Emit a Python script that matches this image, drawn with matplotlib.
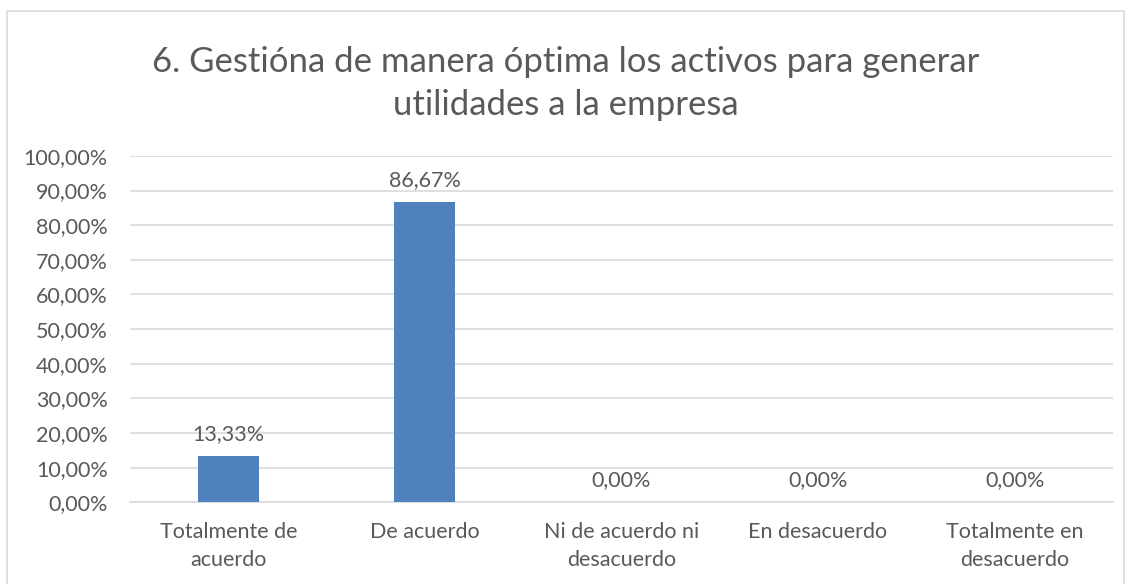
import matplotlib.pyplot as plt
from matplotlib.patches import Rectangle
from matplotlib.ticker import FuncFormatter

plt.rcParams['font.family'] = ['Lato', 'DejaVu Sans']

categorias = ['Totalmente de\nacuerdo', 'De acuerdo', 'Ni de acuerdo ni\ndesacuerdo',
              'En desacuerdo', 'Totalmente en\ndesacuerdo']
valores = [13.33, 86.67, 0.0, 0.0, 0.0]
titulo = '6. Gestióna de manera óptima los activos para generar\nutilidades a la empresa'

texto = '#595959'
fig = plt.figure(figsize=(11.31, 5.84), dpi=100)
ax = fig.add_axes([0.115, 0.140, 0.869, 0.593])

# marco del gráfico
fig.patches.append(Rectangle((7 / 1131, -0.05), 1117 / 1131, 1.05 - 11 / 584,
                             transform=fig.transFigure, fill=False,
                             edgecolor='#d9d9d9', lw=1.2))

x = range(len(categorias))
ax.bar(x, valores, width=0.31, color='#4f81bd', zorder=3)
for i, v in zip(x, valores):
    ax.text(i, v + 3.5, f'{v:.2f}%'.replace('.', ','), ha='center', va='bottom',
            fontsize=15.5, color=texto)

ax.set_ylim(0, 100)
ax.set_xlim(-0.5, 4.5)
ax.set_yticks(range(0, 101, 10))
ax.yaxis.set_major_formatter(FuncFormatter(lambda v, p: f'{v:.2f}%'.replace('.', ',')))
ax.set_xticks(list(x))
ax.set_xticklabels(categorias, linespacing=1.55)
ax.tick_params(axis='both', length=0, labelsize=15.5, colors=texto)
ax.tick_params(axis='x', pad=14)
ax.tick_params(axis='y', pad=16)
ax.grid(axis='y', color='#d9d9d9', lw=1.2, zorder=0)
for s in ['top', 'right', 'left']:
    ax.spines[s].set_visible(False)
ax.spines['bottom'].set_color('#d9d9d9')
ax.spines['bottom'].set_linewidth(1.2)

fig.text(0.5, 0.921, titulo, ha='center', va='top', fontsize=25, color=texto,
         linespacing=1.4)

fig.savefig('out.png', dpi=100)
